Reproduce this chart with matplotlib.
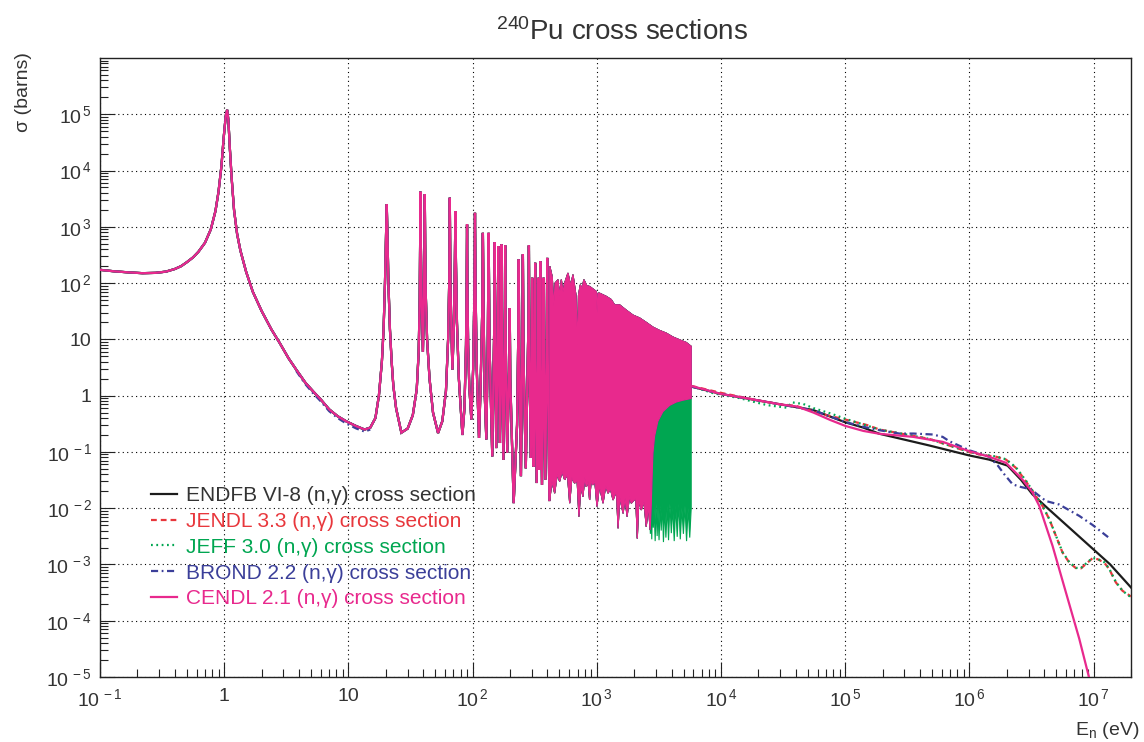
import numpy as np
import matplotlib
matplotlib.use("Agg")
import matplotlib.pyplot as plt
from matplotlib.ticker import LogLocator, FuncFormatter, NullFormatter, FixedLocator
from matplotlib.lines import Line2D

plt.rcParams["font.family"] = ["Liberation Sans", "DejaVu Sans"]
plt.rcParams["mathtext.fontset"] = "custom"
plt.rcParams["mathtext.rm"] = "Liberation Sans"
plt.rcParams["mathtext.it"] = "Liberation Sans:italic"
plt.rcParams["mathtext.bf"] = "Liberation Sans:bold"
plt.rcParams["mathtext.default"] = "regular"

# ---------------------------------------------------------------------------
# 240Pu (n,gamma) cross section, energies in eV, sigma in barns
# ---------------------------------------------------------------------------

# Resolved resonance region (common to all evaluations), 0.1 eV - 415 eV
res_e = [0.1, 0.13, 0.17, 0.22, 0.28, 0.34, 0.40, 0.45, 0.50, 0.56, 0.62, 0.70,
         0.78, 0.85, 0.90, 0.95, 0.99, 1.03, 1.056, 1.08, 1.11, 1.15, 1.20, 1.27,
         1.35, 1.50, 1.70, 2.0, 2.4, 2.8, 3.3, 3.8, 4.5, 5.2, 6.0, 7.0, 8.2, 9.6,
         11.6, 13.5, 15.0, 16.5, 17.6, 18.6, 19.2, 19.7, 20.1, 20.35, 20.6, 21.0,
         21.6, 22.3, 23.0, 24.2, 26.7, 30.0, 33.0, 35.5, 36.8, 37.5, 37.8, 38.0,
         38.3, 38.8, 39.8, 40.6, 40.95, 41.2, 41.5, 42.0, 43.0, 45.0, 48.0, 52.7,
         57.0, 61.0, 63.5, 64.8, 65.2, 65.5, 65.9, 66.3, 67.5, 68.8, 70.8, 72.0,
         72.7, 73.4, 74.8, 77.5, 82.8, 86.0, 88.5, 89.6, 90.2, 90.8, 92.0, 94.0,
         97.7, 101.0, 103.3, 104.5, 105.8, 108.0, 112.6, 116.0, 119.5, 121.0,
         122.6, 125.0, 129.0, 132.5, 134.6, 136.8, 144.0, 149.0, 150.6, 152.3,
         155.0, 159.5, 161.0, 162.8, 166.0, 169.5, 171.0, 172.8, 177.0, 181.5,
         183.0, 185.0, 190.0, 197.0, 199.0, 201.0, 214.0, 228.0, 233.0, 235.0,
         237.5, 245.0, 251.0, 254.0, 257.0, 268.0, 281.0, 284.0, 287.0, 294.0,
         300.0, 302.0, 304.5, 310.0, 316.0, 319.0, 322.0, 328.0, 337.0, 340.0,
         342.5, 345.0, 349.0, 351.0, 354.0, 362.0, 370.0, 373.0, 376.0, 385.0,
         395.0, 399.0, 403.0, 415.0]
res_sigma = [172, 162, 155, 150, 152, 160, 178, 200, 235, 285, 360, 520,
             900, 1900, 4200, 12000, 38000, 95000, 120000, 80000, 25000, 7000, 2000, 750,
             380, 160, 70, 32, 15, 8.6, 4.6, 2.9, 1.7, 1.19, 0.85, 0.57, 0.43, 0.35,
             0.286, 0.25, 0.27, 0.40, 1.0, 4.0, 15, 100, 800, 2500, 800, 100,
             15, 4.0, 1.5, 0.6, 0.22, 0.26, 0.45, 1.3, 6, 50, 500, 4200,
             500, 60, 6, 60, 500, 3760, 500, 60, 10, 2, 0.5, 0.217,
             0.35, 1.2, 10, 100, 600, 3280, 600, 100, 15, 2.9, 20, 250,
             1900, 250, 20, 2, 0.20, 0.6, 8, 100, 1100, 100, 8, 1.5,
             0.375, 3, 60, 1770, 60, 3, 0.177, 1.5, 30, 780,
             30, 1.2, 0.166, 8, 780, 8, 0.083, 12, 535, 10,
             0.117, 12, 455, 8, 0.144, 12, 485, 8, 0.072, 12,
             465, 8, 0.096, 3, 36, 2, 0.0123, 0.3, 10, 262,
             5, 0.037, 10, 323, 5, 0.051, 15, 465, 5, 0.078,
             5, 124, 3, 0.055, 5, 229, 3, 0.028, 5, 124,
             3, 0.048, 10, 243, 3, 0.026, 5, 124, 3, 0.032,
             10, 280, 5, 0.014]

# BROND 2.2 sits slightly lower in the 1/v valleys
brond_valley_e = [3.8, 4.5, 5.2, 6.0, 7.0, 8.2, 9.6, 11.6, 13.5, 15.0]
brond_valley_sigma = [2.75, 1.6, 1.1, 0.79, 0.53, 0.40, 0.32, 0.26, 0.23, 0.25]

# Unresolved dense band, upper envelope of the resonance peaks
band_top_e = [418, 438, 450, 462, 487, 500, 518, 535, 551, 586, 615, 643, 680,
              700, 712, 736, 760, 787, 830, 875, 990, 1005, 1021, 1053, 1191,
              1306, 1390, 1526, 1726, 1953, 2210, 2500, 2829, 3200, 3622, 4098,
              4636, 5245, 5754]
band_top_sigma = [200, 128, 40, 100, 115, 60, 115, 70, 100, 151, 90, 141, 60,
                  8, 60, 93, 80, 115, 90, 87, 71, 30, 66, 66, 58,
                  51, 41, 41, 33, 27, 24, 20, 16.5, 14.4, 12.9, 11,
                  9.8, 8.8, 7.5]

# Unresolved dense band, lower envelope of the resonance troughs
band_low_e = [418, 435, 458, 480, 502, 525, 551, 580, 605, 630, 662, 695, 718,
              745, 773, 800, 822, 850, 875, 900, 930, 965, 1003, 1050, 1122,
              1180, 1231, 1290, 1351, 1440, 1483, 1530, 1628, 1690, 1753, 1830,
              1896, 2060, 2118, 2180, 2281, 2400, 2500, 2600, 2689, 2741, 2790,
              2829, 2917, 3100, 3405, 3850, 4360, 4932, 5754]
band_low_sigma = [0.014, 0.03, 0.0185, 0.04, 0.030, 0.045, 0.032, 0.04, 0.0123,
                  0.035, 0.028, 0.03, 0.0071, 0.025, 0.016, 0.035, 0.024, 0.03,
                  0.014, 0.03, 0.026, 0.03, 0.0107, 0.025, 0.0123, 0.025, 0.0185,
                  0.022, 0.014, 0.02, 0.0044, 0.016, 0.0081, 0.015, 0.0071, 0.016,
                  0.0123, 0.015, 0.0029, 0.014, 0.0093, 0.013, 0.0047, 0.011,
                  0.0041, 0.011, 0.04, 0.095, 0.19, 0.35, 0.52, 0.67, 0.77, 0.83,
                  0.89]

# JEFF 3.0 troughs in the upper part of the band reach deeper
jeff_low_e = [2650, 2700, 2730, 2770, 2810, 2850, 2900, 2950, 3000, 3060, 3110,
              3170, 3240, 3300, 3370, 3440, 3520, 3600, 3690, 3780, 3880, 3980,
              4090, 4200, 4320, 4440, 4570, 4700, 4840, 4980, 5130, 5280, 5440,
              5600, 5754]
jeff_low_sigma = [0.011, 0.0035, 0.010, 0.0028, 0.011, 0.0045, 0.010, 0.0026,
                  0.012, 0.0032, 0.010, 0.0027, 0.011, 0.0040, 0.012, 0.0025,
                  0.010, 0.0030, 0.011, 0.0027, 0.012, 0.0036, 0.010, 0.0026,
                  0.011, 0.0031, 0.012, 0.0028, 0.010, 0.0035, 0.011, 0.0026,
                  0.010, 0.0030, 0.010]

# Fast region, one curve per evaluation
endf_e = [5754, 1e4, 2e4, 3e4, 5.5e4, 1e5, 1.4e5, 1.885e5, 4.76e5, 9.98e5,
          1.44e6, 2.03e6, 2.6e6, 3.22e6, 4.26e6, 1.36e7, 2e7]
endf_sigma = [1.45, 1.07, 0.82, 0.70, 0.556, 0.336, 0.27, 0.21, 0.13, 0.0865,
              0.073, 0.057, 0.032, 0.0176, 0.010, 1.0e-3, 3.9e-4]

jendl_e = [5754, 1e4, 2e4, 3e4, 4e4, 5e4, 7.1e4, 1.03e5, 1.5e5, 1.885e5, 4.76e5,
           9.98e5, 1.2e6, 1.64e6, 1.97e6, 2.37e6, 2.85e6, 3.43e6, 3.88e6, 4.4e6,
           4.97e6, 5.62e6, 6.37e6, 7.2e6, 7.9e6, 8.94e6, 9.8e6, 1.076e7,
           1.217e7, 1.335e7, 1.51e7, 1.71e7, 2e7]
jendl_sigma = [1.49, 1.12, 0.82, 0.70, 0.66, 0.56, 0.45, 0.37, 0.30, 0.25, 0.17,
               0.099, 0.090, 0.082, 0.073, 0.052, 0.030, 0.0164, 0.0109, 0.00635,
               0.00322, 0.00163, 0.00108, 8.6e-4, 8.5e-4, 1.08e-3, 1.29e-3,
               1.24e-3, 1.08e-3, 8.3e-4, 4.8e-4, 3.4e-4, 2.7e-4]

jeff_e = [5754, 8.7e3, 1.42e4, 1.82e4, 2.34e4, 3.38e4, 3.72e4, 4.6e4, 5.55e4,
          7.56e4, 1.03e5, 1.885e5, 4.76e5, 9.98e5, 1.2e6, 1.64e6, 1.97e6,
          2.37e6, 2.85e6, 3.43e6, 3.88e6, 4.4e6, 4.97e6, 5.62e6, 6.37e6, 7.2e6,
          7.9e6, 8.94e6, 9.8e6, 1.076e7, 1.217e7, 1.335e7, 1.51e7, 1.71e7, 2e7]
jeff_sigma = [1.49, 1.1, 0.9, 0.78, 0.68, 0.61, 0.76, 0.71, 0.60,
              0.485, 0.38, 0.25, 0.17, 0.100, 0.091, 0.083, 0.074,
              0.053, 0.031, 0.0166, 0.011, 0.0064, 0.00325, 0.00165, 0.0011,
              8.7e-4, 8.6e-4, 1.1e-3, 1.3e-3, 1.25e-3, 1.1e-3, 8.4e-4, 4.9e-4,
              3.4e-4, 2.6e-4]

brond_e = [5754, 1e4, 3e4, 5.5e4, 1e5, 1.4e5, 1.885e5, 2.73e5, 3.53e5, 5.06e5,
           6.09e5, 6.89e5, 9.98e5, 1.44e6, 1.69e6, 1.91e6, 2.23e6, 2.6e6,
           3.13e6, 4.13e6, 5.29e6, 7.66e6, 9.8e6, 1.377e7]
brond_sigma = [1.45, 1.07, 0.70, 0.55, 0.34, 0.28, 0.243, 0.212, 0.212, 0.204,
               0.185, 0.155, 0.107, 0.082, 0.0575, 0.040, 0.0265, 0.0238,
               0.0216, 0.0134, 0.0116, 0.0073, 0.00504, 0.0028]

cendl_e = [5754, 1e4, 1.6e4, 3e4, 4.1e4, 5.55e4, 7.56e4, 1e5, 1.4e5, 1.885e5,
           3.53e5, 6.09e5, 9.98e5, 1.44e6, 1.97e6, 2.68e6, 3.22e6, 3.65e6,
           4.67e6, 5.98e6, 7.66e6, 9.1e6, 1.2e7]
cendl_sigma = [1.49, 1.07, 0.90, 0.70, 0.64, 0.50, 0.37, 0.29, 0.236, 0.21,
               0.185, 0.151, 0.103, 0.082, 0.064, 0.032, 0.019, 0.011,
               0.00214, 3.2e-4, 4.8e-5, 1.07e-5, 1.5e-6]

labels = ["ENDFB VI-8 (n,γ) cross section",
          "JENDL 3.3 (n,γ) cross section",
          "JEFF 3.0 (n,γ) cross section",
          "BROND 2.2 (n,γ) cross section",
          "CENDL 2.1 (n,γ) cross section"]

# decades carrying a tick label on each axis
x_decades = [-1, 0, 1, 2, 3, 4, 5, 6, 7]
y_decades = [-5, -4, -3, -2, -1, 0, 1, 2, 3, 4, 5]

# ---------------------------------------------------------------------------
W, H = 1144, 742
fig = plt.figure(figsize=(W / 100, H / 100), dpi=100)
ax_l, ax_r, ax_t, ax_b = 100, 1131, 58, 677
ax = fig.add_axes([ax_l / W, 1 - ax_b / H, (ax_r - ax_l) / W, (ax_b - ax_t) / H])
ax.set_xscale("log")
ax.set_yscale("log")
ax.set_xlim(0.1, 2e7)
ax.set_ylim(1e-5, 1e6)

c_endf = "#1c1c1c"
c_jendl = "#e8373c"
c_jeff = "#00a651"
c_brond = "#3b3f99"
c_cendl = "#e8298d"

lw = 1.6
styles = [
    dict(color=c_endf, lw=lw, ls="-"),
    dict(color=c_jendl, lw=lw, ls=(0, (2.6, 1.8))),
    dict(color=c_jeff, lw=lw, ls=(0, (0.8, 1.6))),
    dict(color=c_brond, lw=lw, ls=(0, (3.2, 1.6, 0.8, 1.6))),
    dict(color=c_cendl, lw=lw, ls="-"),
]
fast = [(endf_e, endf_sigma), (jendl_e, jendl_sigma), (jeff_e, jeff_sigma),
        (brond_e, brond_sigma), (cendl_e, cendl_sigma)]

band_top_e_a = np.array(band_top_e, float)
band_top_s_a = np.array(band_top_sigma, float)
band_low_e_a = np.array(band_low_e, float)
band_low_s_a = np.array(band_low_sigma, float)


def band_polygon(lo_e, lo_s):
    xs = np.concatenate([band_top_e_a, np.asarray(lo_e, float)[::-1]])
    ys = np.concatenate([band_top_s_a, np.asarray(lo_s, float)[::-1]])
    return xs, ys


handles = []
for i, (st, (fe, fs)) in enumerate(zip(styles, fast)):
    z = 2 + i
    # resolved resonances
    ax.plot(res_e, res_sigma, color=st["color"], lw=st["lw"], ls="-",
            solid_joinstyle="miter", zorder=z)
    if st["color"] == c_brond:
        ax.plot(brond_valley_e, brond_valley_sigma, zorder=z, **st)
    # unresolved band
    if st["color"] == c_jeff:
        keep = band_low_e_a < jeff_low_e[0]
        lo_e = np.concatenate([band_low_e_a[keep], jeff_low_e])
        lo_s = np.concatenate([band_low_s_a[keep], jeff_low_sigma])
    else:
        lo_e, lo_s = band_low_e_a, band_low_s_a
    px, py = band_polygon(lo_e, lo_s)
    ax.fill(px, py, facecolor=st["color"], edgecolor=st["color"], lw=0.8,
            zorder=z)
    # fast region
    ax.plot(fe, fs, zorder=z, **st)
    handles.append(Line2D([], [], **st))

# axes styling
ax.grid(True, which="major", ls=(0, (1, 3)), color="black", lw=0.8)
ax.set_axisbelow(True)
for s in ax.spines.values():
    s.set_color("#222222")
    s.set_linewidth(1.0)


def decade_label(v, pos):
    e = int(round(np.log10(v)))
    if e == 0:
        return "1"
    if e == 1:
        return "10"
    return r"$10^{\,%d}$" % e


ax.xaxis.set_major_locator(FixedLocator([10.0 ** d for d in x_decades]))
ax.yaxis.set_major_locator(FixedLocator([10.0 ** d for d in y_decades]))
for axis in (ax.xaxis, ax.yaxis):
    axis.set_minor_locator(LogLocator(base=10, subs=np.arange(2, 10), numticks=40))
    axis.set_major_formatter(FuncFormatter(decade_label))
    axis.set_minor_formatter(NullFormatter())

ax.tick_params(which="both", direction="in", top=False, right=False,
               color="#222222", width=0.8, labelsize=14, labelcolor="#333333")
ax.tick_params(which="major", length=11)
ax.tick_params(which="minor", length=5.5)
ax.tick_params(axis="x", which="major", pad=8)
ax.tick_params(axis="y", which="major", pad=6)

# legend
leg = ax.legend(handles, labels, loc="upper left",
                bbox_to_anchor=((151 - ax_l) / (ax_r - ax_l), (ax_b - 486) / (ax_b - ax_t)),
                frameon=False, fontsize=15, handlelength=1.25,
                handletextpad=0.45, labelspacing=0.33, borderpad=0,
                borderaxespad=0)
for t, c in zip(leg.get_texts(), ["#333333", c_jendl, c_jeff, c_brond, c_cendl]):
    t.set_color(c)

# titles
fig.text(622 / W, 1 - 40 / H, r"$^{240}$Pu cross sections", ha="center",
         va="baseline", fontsize=20, color="#333333")
fig.text(23 / W, 1 - 52 / H, "σ (barns)", rotation=90, ha="center", va="top",
         fontsize=14, color="#333333")
fig.text(1139 / W, 1 - 735 / H, r"E$_{n}$ (eV)", ha="right", va="baseline",
         fontsize=14, color="#333333")

fig.savefig("out.png", dpi=100)
